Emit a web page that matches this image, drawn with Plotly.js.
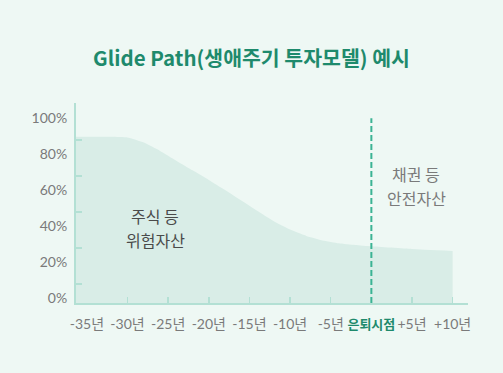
<!DOCTYPE html>
<html><head><meta charset="utf-8">
<script src="https://cdn.plot.ly/plotly-3.0.1.min.js"></script>
<style>html,body{margin:0;padding:0;background:#eef8f4;}#c{width:503px;height:373px;}</style>
</head><body><div id="c"></div>
<script>
// data
const years = [-37, -32, -30, -28, -26, -24, -22, -20, -18, -16, -14, -12, -10, -8, -6, -4, -2, 0, 5, 10];
const riskShare = [81.7, 81.7, 81.3, 78.5, 73.9, 68.5, 63.1, 57.8, 52.2, 46.4, 40.5, 34.8, 30.2, 26.7, 24.2, 22.6, 21.65, 20.9, 19.4, 18.35];
const tickYears = [-35, -30, -25, -20, -15, -10, -5, 0, 5, 10];
const tickLabels = ['-35년', '-30년', '-25년', '-20년', '-15년', '-10년', '-5년', '은퇴시점', '+5년', '+10년'];
const yTicks = [0, 20, 40, 60, 80, 100];
const yTickLabels = ['0%', '20%', '40%', '60%', '80%', '100%'];
const retirementYear = 0;
const riskLabelLines = ['주식 등', '위험자산'];
const safeLabelLines = ['채권 등', '안전자산'];
const titleText = 'Glide Path(생애주기 투자모델) 예시';

const xRange = [-36.34, 11.89];
const yRange = [-10.56, 100.5];
const axisColor = '#b3e0d4';
const fillColor = '#d9ede7';
const green = '#3bb394';

const tickText = tickLabels.map((t, i) => tickYears[i] === retirementYear
  ? '<b><span style="color:#1e8a6c;font-size:13px">' + t + '</span></b>' : t);

const floor = {x: years, y: years.map(() => yRange[0]), mode: 'lines', line: {width: 0}, hoverinfo: 'skip', showlegend: false};
const area = {x: years, y: riskShare, mode: 'lines', line: {width: 0, shape: 'spline', smoothing: 0.4},
  fill: 'tonexty', fillcolor: fillColor, hoverinfo: 'skip', showlegend: false};

const cjk = '"Noto Sans CJK KR", sans-serif';
const ann = [];
riskLabelLines.forEach((t, i) => ann.push({xref: 'x', yref: 'y', x: -26.6, y: 37.8 - i * 13.4, text: t, showarrow: false,
  font: {family: cjk, size: 16, color: '#4a4a4a'}}));
safeLabelLines.forEach((t, i) => ann.push({xref: 'x', yref: 'y', x: 5.5, y: 61.1 - i * 13.4, text: t, showarrow: false,
  font: {family: cjk, size: 16, color: '#7a7a7a'}}));

const layout = {
  width: 503, height: 373,
  paper_bgcolor: '#eef8f4', plot_bgcolor: 'rgba(0,0,0,0)',
  margin: {l: 76, r: 35, t: 103, b: 70},
  font: {family: 'Lato, "Noto Sans CJK KR", sans-serif', color: '#7a7a7a', size: 14},
  title: {text: '<b>' + titleText + '</b>', x: 0.5, xanchor: 'center', y: 0.843, yanchor: 'middle',
    font: {family: cjk, size: 20.5, color: '#1e8a6c'}},
  xaxis: {range: xRange, showgrid: false, zeroline: false, showline: true, linecolor: axisColor, linewidth: 2,
    tickmode: 'array', tickvals: tickYears, ticktext: tickText, ticks: '', ticklen: 0, ticklabelstandoff: 7,
    tickangle: 0, tickfont: {size: 14, color: '#7a7a7a'},
    minor: {tickmode: 'array', tickvals: tickYears.slice(1), ticks: 'inside', ticklen: 6, tickcolor: axisColor, tickwidth: 1.5, showgrid: false}},
  yaxis: {range: yRange, showgrid: false, zeroline: false, showline: true, linecolor: axisColor, linewidth: 2,
    tickmode: 'array', tickvals: yTicks, ticktext: yTickLabels, ticks: 'inside', ticklen: 6, tickcolor: axisColor, tickwidth: 1.5,
    ticklabelshift: 14, ticklabelstandoff: 4, tickfont: {size: 14, color: '#7a7a7a'}},
  shapes: [{type: 'line', xref: 'x', yref: 'y', x0: retirementYear, x1: retirementYear, y0: yRange[0], y1: 92,
    line: {color: green, width: 2, dash: '6px,3px'}}],
  annotations: ann
};
Plotly.newPlot('c', [floor, area], layout, {displayModeBar: false, staticPlot: true});
</script></body></html>
